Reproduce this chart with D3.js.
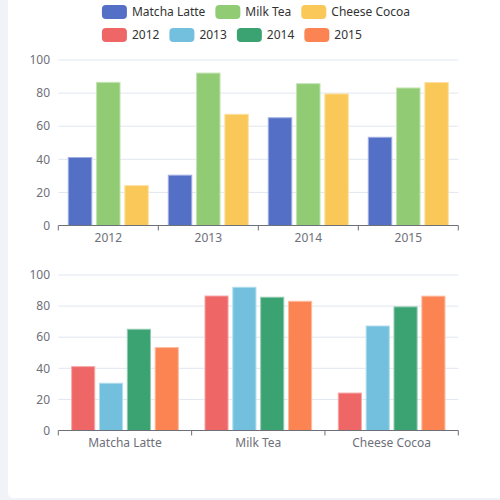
<!DOCTYPE html>
<html>
<head>
<meta charset="utf-8">
<script src="https://cdn.jsdelivr.net/npm/d3@7"></script>
<style>
  html, body { margin: 0; padding: 0; background: #f2f3f8; }
  svg { display: block; font-family: "Noto Sans", sans-serif; }
</style>
</head>
<body>
<svg id="chart" width="500" height="500"></svg>
<script>
// Data: dataset with years as columns and products as rows
const years = ['2012', '2013', '2014', '2015'];
const products = ['Matcha Latte', 'Milk Tea', 'Cheese Cocoa'];
const matchaLatte = [41.1, 30.4, 65.1, 53.3];
const milkTea = [86.5, 92.1, 85.7, 83.1];
const cheeseCocoa = [24.1, 67.2, 79.5, 86.4];
const yTicks = [0, 20, 40, 60, 80, 100];

const productColors = ['#5470c6', '#91cc75', '#fac858'];
const yearColors = ['#ee6666', '#73c0de', '#3ba272', '#fc8452'];
const rows = [matchaLatte, milkTea, cheeseCocoa];

const svg = d3.select('#chart');

// white card
svg.append('rect')
    .attr('x', 8).attr('y', -10)
    .attr('width', 500).attr('height', 508)
    .attr('rx', 5)
    .attr('fill', '#fff');

// Legend (two rows, left aligned, block centered in card)
const legendRows = [
    products.map((p, i) => ({ name: p, color: productColors[i] })),
    years.map((y, i) => ({ name: y, color: yearColors[i] }))
];
const legend = svg.append('g');
const rowWidths = legendRows.map((items, r) => {
    const g = legend.append('g').attr('transform', `translate(0,${5 + r * 23})`);
    let x = 0;
    items.forEach(it => {
        g.append('rect')
            .attr('x', x).attr('y', 0)
            .attr('width', 25).attr('height', 14)
            .attr('rx', 4)
            .attr('fill', it.color);
        const t = g.append('text')
            .attr('x', x + 30).attr('y', 7)
            .attr('dy', '0.35em')
            .attr('fill', '#333')
            .style('font-size', '12px')
            .text(it.name);
        x += 30 + t.node().getComputedTextLength() + 10;
    });
    return x - 10;
});
const blockW = d3.max(rowWidths);
legend.attr('transform', `translate(${256 - blockW / 2},0)`);

// Draw one grouped bar chart
function drawChart(top, bottom, groups, seriesNames, colors, valueOf) {
    const g = svg.append('g');
    const x0 = d3.scaleBand().domain(groups).range([58.3, 458.3]);
    const x1 = d3.scaleBand().domain(seriesNames)
        .range([x0.bandwidth() * 0.1, x0.bandwidth() * 0.9])
        .paddingInner(0.17);
    const y = d3.scaleLinear().domain([0, 100]).range([bottom, top]);

    // grid
    g.selectAll('.grid').data(yTicks.filter(d => d > 0)).enter().append('line')
        .attr('x1', 58.3).attr('x2', 458.3)
        .attr('y1', d => y(d)).attr('y2', d => y(d))
        .attr('stroke', '#E0E6F1');

    // y labels
    g.selectAll('.yl').data(yTicks).enter().append('text')
        .attr('x', 50).attr('y', d => y(d))
        .attr('dy', '0.35em')
        .attr('text-anchor', 'end')
        .attr('fill', '#6E7079')
        .style('font-size', '12px')
        .text(d => d);

    // bars
    groups.forEach((grp, gi) => {
        seriesNames.forEach((s, si) => {
            const v = valueOf(gi, si);
            g.append('rect')
                .attr('x', x0(grp) + x1(s))
                .attr('y', y(v))
                .attr('width', x1.bandwidth())
                .attr('height', y(0) - y(v))
                .attr('fill', colors[si])
                .attr('stroke', d3.interpolateRgb(colors[si], '#fff')(0.45))
                .attr('stroke-width', 1);
        });
    });

    // x axis
    const axis = g.append('g').attr('transform', `translate(0,${bottom})`);
    axis.append('line')
        .attr('x1', 58.3).attr('x2', 458.3)
        .attr('stroke', '#6E7079');
    const ticks = groups.map(d => x0(d)).concat([x0.range()[1]]);
    axis.selectAll('.tk').data(ticks).enter().append('line')
        .attr('x1', d => d).attr('x2', d => d)
        .attr('y1', 0).attr('y2', 5)
        .attr('stroke', '#6E7079');
    axis.selectAll('.xl').data(groups).enter().append('text')
        .attr('x', d => x0(d) + x0.bandwidth() / 2)
        .attr('y', 12)
        .attr('dy', '0.35em')
        .attr('text-anchor', 'middle')
        .attr('fill', '#6E7079')
        .style('font-size', '12px')
        .text(d => d);
}

// Top: grouped by year, series = products
drawChart(60, 225.5, years, products, productColors, (gi, si) => rows[si][gi]);
// Bottom: grouped by product, series = years
drawChart(275, 430.5, products, years, yearColors, (gi, si) => rows[gi][si]);
</script>
</body>
</html>
